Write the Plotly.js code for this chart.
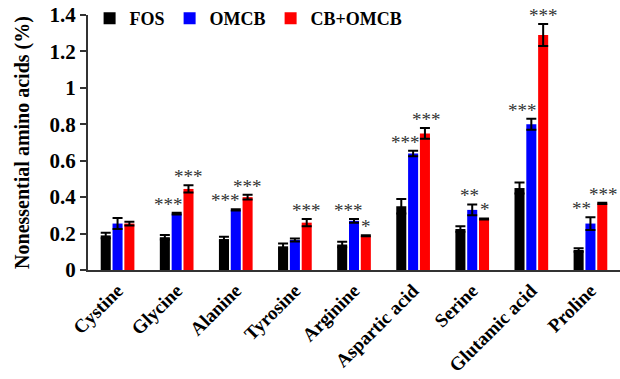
<!DOCTYPE html>
<html><head><meta charset="utf-8">
<script src="https://cdn.plot.ly/plotly-3.0.1.min.js"></script>
<style>html,body{margin:0;padding:0;background:#fff}#chart{width:620px;height:379px}</style>
</head><body><div id="chart"></div>
<script>
const categories = ["Cystine","Glycine","Alanine","Tyrosine","Arginine","Aspartic acid","Serine","Glutamic acid","Proline"];
const seriesNames = ["FOS","OMCB","CB+OMCB"];
const fosVals  = [0.19, 0.18, 0.17, 0.13, 0.14, 0.35, 0.225, 0.45, 0.11];
const fosErr   = [0.015,0.012,0.012,0.015,0.015,0.04, 0.015, 0.03, 0.01];
const omcbVals = [0.255,0.31, 0.33, 0.165,0.27, 0.64, 0.33, 0.80, 0.255];
const omcbErr  = [0.03, 0.005,0.004,0.008,0.01, 0.015,0.03, 0.03, 0.035];
const cbVals   = [0.255,0.445,0.40, 0.26, 0.188,0.75, 0.28, 1.29, 0.366];
const cbErr    = [0.01, 0.02, 0.013,0.02, 0.003,0.03, 0.003,0.06, 0.003];
const fosSig   = ["","","","","","","","",""];
const omcbSig  = ["","***","***","","***","***","**","***","**"];
const cbSig    = ["","***","***","***","*","***","*","***","***"];
const yTicks   = [0,0.2,0.4,0.6,0.8,1,1.2,1.4];

const colors = ["#000000","#0000ff","#ff0000"];
const vals = [fosVals, omcbVals, cbVals];
const errs = [fosErr, omcbErr, cbErr];
const sigs = [fosSig, omcbSig, cbSig];
const font = "Liberation Serif, Times New Roman, serif";

const traces = vals.map((v,k)=>({
  type:"bar", name:seriesNames[k], x:categories, y:v,
  marker:{color:colors[k]},
  error_y:{type:"data", array:errs[k], visible:true, color:"#000", thickness:2, width:5}
}));

// pixel offset of each series inside a group, and small nudges for crowded labels
const slotPx = 11.8;
const omcbNudge = [0,-8,-10,0,-6,-8,-3,-9,-9];
const cbNudge   = [0,0,0,0,0,2,1,0,1];
const annotations = [];
sigs.forEach((arr,k)=>{
  arr.forEach((t,i)=>{
    if(!t) return;
    const nudge = k===1 ? omcbNudge[i] : (k===2 ? cbNudge[i] : 0);
    annotations.push({x:categories[i], y:vals[k][i]+errs[k][i], xref:"x", yref:"y",
      text:t, showarrow:false, yanchor:"bottom", yshift:-4,
      xshift:(k-1)*slotPx + nudge,
      font:{family:font, size:19, color:"#333"}});
  });
});

const layout = {
  width:620, height:379,
  margin:{l:88, r:0, t:15, b:109},
  paper_bgcolor:"#fff", plot_bgcolor:"#fff",
  barmode:"group", bargap:0.4, bargroupgap:0.15,
  font:{family:font, color:"#000"},
  showlegend:true,
  legend:{orientation:"h", x:0.003, y:1.06, xanchor:"left", yanchor:"top",
    font:{family:font, size:18, color:"#000", weight:"bold"}, itemwidth:30, bgcolor:"rgba(0,0,0,0)",
    traceorder:"normal"},
  xaxis:{type:"category", range:[-0.5,8.5], showline:true, linecolor:"#333", linewidth:2,
    ticks:"", tickangle:-45, showgrid:false, zeroline:false,
    tickfont:{family:font, size:19, color:"#000", weight:"bold"}},
  yaxis:{range:[0,1.4], tickvals:yTicks, ticktext:yTicks.map(String), showline:true, linecolor:"#333", linewidth:2,
    ticks:"outside", ticklen:6, tickwidth:2, tickcolor:"#333", showgrid:false, zeroline:false,
    tickfont:{family:font, size:21, color:"#000", weight:"bold"},
    title:{text:"Nonessential amino acids (%)", standoff:15, font:{family:font, size:20, color:"#000", weight:"bold"}}},
  annotations
};
Plotly.newPlot("chart", traces, layout, {displayModeBar:false, staticPlot:true});
</script></body></html>
